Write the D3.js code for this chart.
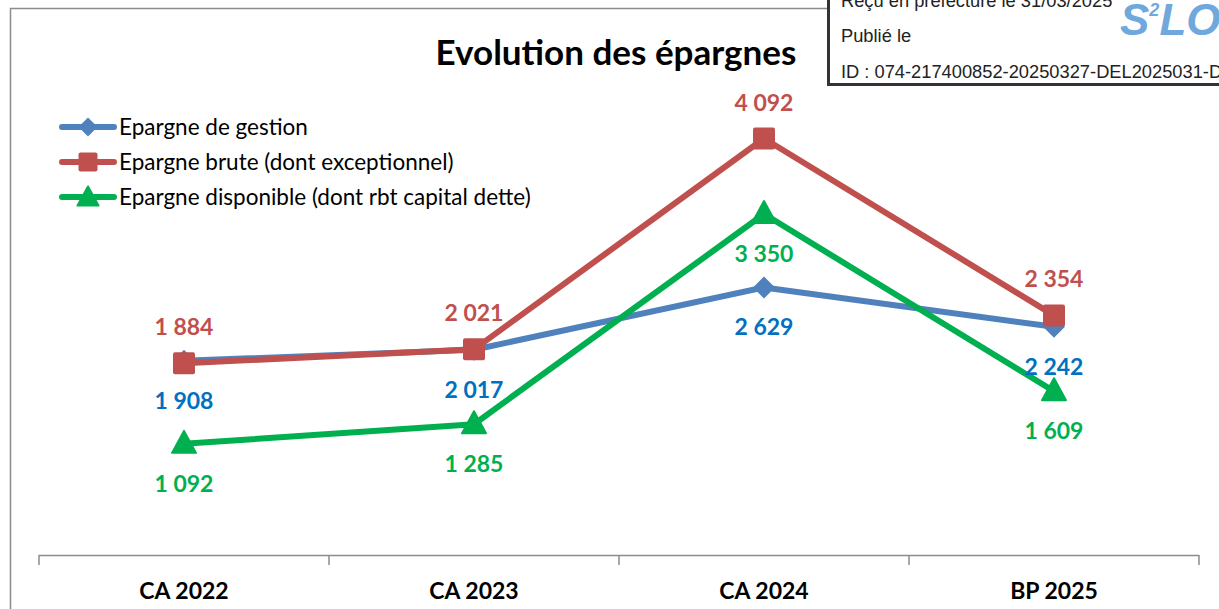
<!DOCTYPE html>
<html><head><meta charset="utf-8">
<script src="https://cdn.jsdelivr.net/npm/d3@7"></script>
<style>body{margin:0;background:#fff}svg{display:block}</style>
</head><body>
<script>
const categories = ["CA 2022","CA 2023","CA 2024","BP 2025"];
const gestion = [1908, 2017, 2629, 2242];
const brute = [1884, 2021, 4092, 2354];
const disponible = [1092, 1285, 3350, 1609];
const seriesNames = ["Epargne de gestion","Epargne brute (dont exceptionnel)","Epargne disponible (dont rbt capital dette)"];
const seriesColors = ["#4f81bd","#c0504d","#00b050"];
const labelColors = ["#0070c0","#c0504d","#00b050"];
const markers = ["diamond","square","triangle"];
const labelOffsets = [40, -36, 40];
const stampLines = ["Reçu en préfecture le 31/03/2025","Publié le","ID : 074-217400852-20250327-DEL2025031-DE"];

const W = 1219, H = 609;
const svg = d3.select("body").append("svg").attr("width", W).attr("height", H);
const font = "Lato, 'Open Sans', sans-serif";

// outer frame
svg.append("path").attr("d", `M10.5,${H} L10.5,8.5 L830,8.5`).attr("fill","none").attr("stroke","#8c8c8c").attr("stroke-width",1.5);

const x = d3.scaleBand().domain(categories).range([39, 1199]).padding(0);
const y = d3.scaleLinear().domain([0, 4500]).range([555, 97]);

// x axis
const xAxis = svg.append("g").attr("transform","translate(0,555.5)")
  .call(d3.axisBottom(x).tickSize(0).tickPadding(0));
xAxis.select(".domain").remove();
xAxis.selectAll(".tick text").remove();
svg.append("line").attr("x1",39).attr("x2",1199).attr("y1",555.5).attr("y2",555.5).attr("stroke","#8c8c8c").attr("stroke-width",1.5);
const bounds = categories.map(c => x(c)).concat([x(categories[3]) + x.bandwidth()]);
svg.selectAll(".xt").data(bounds).enter().append("line")
  .attr("x1", d=>d).attr("x2", d=>d).attr("y1",555).attr("y2",565)
  .attr("stroke","#8c8c8c").attr("stroke-width",1.5);
svg.selectAll(".xl").data(categories).enter().append("text")
  .attr("x", d => x(d) + x.bandwidth()/2).attr("y", 599)
  .attr("text-anchor","middle").attr("font-family",font).attr("font-weight","bold")
  .attr("font-size",23).attr("fill","#000").text(d=>d);

// title
svg.append("text").attr("x",616).attr("y",65).attr("text-anchor","middle")
  .attr("font-family",font).attr("font-weight","bold").attr("font-size",35).attr("fill","#000")
  .text("Evolution des épargnes");

const data = [gestion, brute, disponible];
const cx = c => x(c) + x.bandwidth()/2;
const line = d3.line().x((d,i)=>cx(categories[i])).y(d=>y(d));

function marker(g, type, color, px, py, s) {
  const h = s/2;
  if (type === "diamond") {
    g.append("path").attr("d", `M${px},${py-h} L${px+h},${py} L${px},${py+h} L${px-h},${py} Z`).attr("fill",color);
  } else if (type === "square") {
    g.append("rect").attr("x",px-h).attr("y",py-h).attr("width",s).attr("height",s).attr("rx",2).attr("fill",color);
  } else {
    g.append("path").attr("d", `M${px},${py-h-2} L${px+h+1},${py+h-2} L${px-h-1},${py+h-2} Z`).attr("fill",color)
      .attr("stroke",color).attr("stroke-width",2).attr("stroke-linejoin","round");
  }
}

data.forEach((vals, si) => {
  const g = svg.append("g");
  g.append("path").datum(vals).attr("d", line).attr("fill","none")
    .attr("stroke", seriesColors[si]).attr("stroke-width",6).attr("stroke-linejoin","round");
  vals.forEach((v,i) => marker(g, markers[si], seriesColors[si], cx(categories[i]), y(v), 22));
});
// data labels
data.forEach((vals, si) => {
  svg.append("g").selectAll("text").data(vals).enter().append("text")
    .attr("x",(d,i)=>cx(categories[i])).attr("y",d=>y(d)+labelOffsets[si])
    .attr("dy","0.35em").attr("text-anchor","middle")
    .attr("font-family",font).attr("font-weight","bold").attr("font-size",23)
    .attr("fill",labelColors[si])
    .text(d => d3.format(",")(d).replace(/,/g," "));
});

// legend
const legY = [127, 162, 197];
seriesNames.forEach((n, si) => {
  const g = svg.append("g");
  g.append("line").attr("x1",62).attr("x2",114).attr("y1",legY[si]).attr("y2",legY[si])
    .attr("stroke",seriesColors[si]).attr("stroke-width",6).attr("stroke-linecap","round");
  marker(g, markers[si], seriesColors[si], 88, legY[si] + (markers[si]==="triangle"?1:0), 19);
  g.append("text").attr("x",119).attr("y",legY[si]).attr("dy","0.35em")
    .attr("font-family",font).attr("font-size",22.5).attr("fill","#000").text(n);
});

// stamp box
const st = svg.append("g");
st.append("rect").attr("x",828.5).attr("y",-5).attr("width",420).attr("height",89.5)
  .attr("fill","#fff").attr("stroke","#333").attr("stroke-width",3);
const logo = st.append("text").attr("x",1120).attr("y",35).attr("font-family","'Liberation Sans', Arial, sans-serif")
  .attr("font-weight","bold").attr("font-style","italic").attr("font-size",44).attr("fill","#6fa8dc");
logo.append("tspan").text("S");
logo.append("tspan").attr("font-size",18).attr("dy",-19).text("2");
logo.append("tspan").attr("dy",19).attr("font-size",44).text("LO");
[7, 42, 78].forEach((yy,i) => {
  st.append("text").attr("x",841).attr("y",yy).attr("font-family","'Liberation Sans', Arial, sans-serif")
    .attr("font-size",18.3).attr("fill","#222").text(stampLines[i]);
});
</script>
</body></html>
